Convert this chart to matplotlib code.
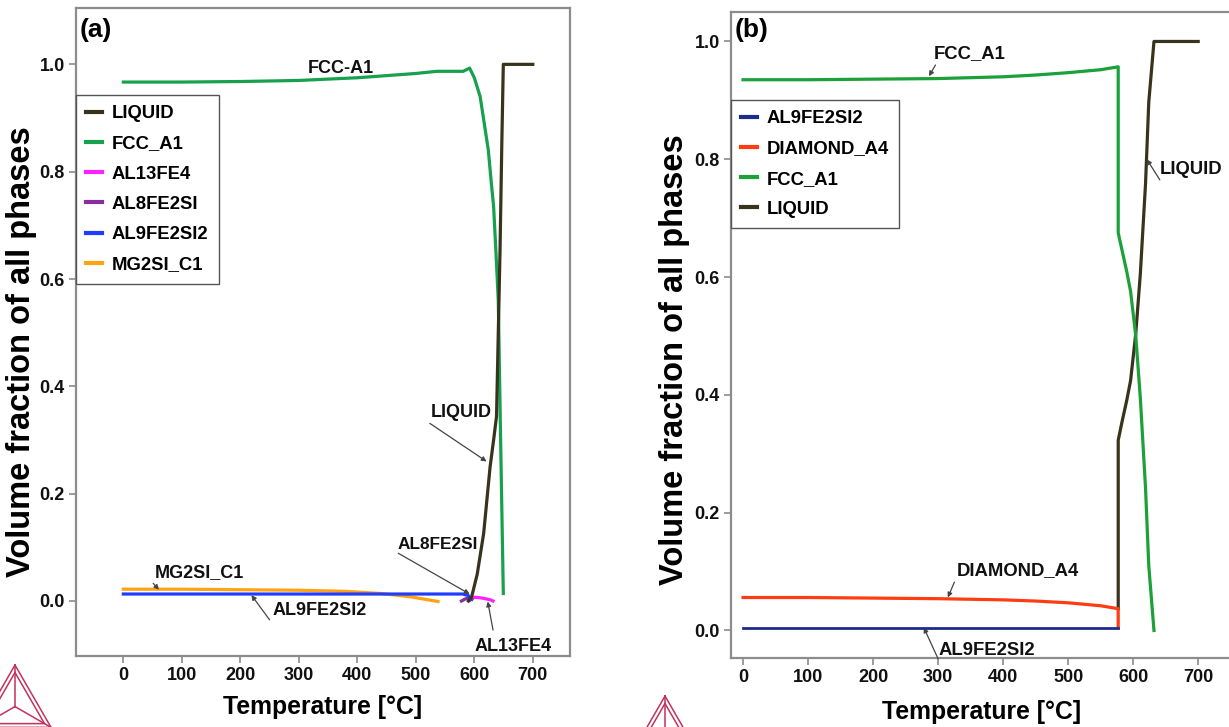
"""Fractions volumiques des phases vs température — panneaux (a) et (b)."""
import numpy as np
import matplotlib
matplotlib.use("Agg")
import matplotlib.pyplot as plt
from matplotlib.ticker import FormatStrFormatter

plt.rcParams["font.family"] = ["Liberation Sans", "DejaVu Sans"]
plt.rcParams["font.weight"] = "bold"

# ---------------------------------------------------------------------------
# Panneau (a)
# ---------------------------------------------------------------------------
a_liquid_T = [590, 595.5, 605, 616, 627, 633, 638, 641, 644, 647, 649.6, 700]
a_liquid_f = [0.0, 0.008, 0.05, 0.126, 0.25, 0.30, 0.344, 0.5, 0.654, 0.85, 1.0, 1.0]

a_fcc_T = [0, 100, 200, 300, 400, 450, 500, 536, 581, 592, 600, 610, 617, 624,
           629, 633, 637, 641, 645, 649.6]
a_fcc_f = [0.967, 0.967, 0.968, 0.970, 0.975, 0.979, 0.983, 0.987, 0.987, 0.993,
           0.975, 0.94, 0.89, 0.84, 0.78, 0.735, 0.65, 0.56, 0.30, 0.014]

a_al13fe4_T = [593, 600, 610, 620, 628, 632]
a_al13fe4_f = [0.004, 0.007, 0.006, 0.004, 0.002, 0.0]

a_al8fe2si_T = [578, 585, 592, 596]
a_al8fe2si_f = [0.0, 0.004, 0.006, 0.003]

a_al9fe2si2_T = [0, 580, 590, 593]
a_al9fe2si2_f = [0.013, 0.013, 0.010, 0.002]

a_mg2si_T = [0, 100, 200, 300, 380, 440, 490, 538]
a_mg2si_f = [0.022, 0.022, 0.021, 0.020, 0.018, 0.014, 0.008, -0.001]

# ---------------------------------------------------------------------------
# Panneau (b)
# ---------------------------------------------------------------------------
b_al9fe2si2_T = [0, 577]
b_al9fe2si2_f = [0.005, 0.005]

b_diamond_T = [0, 100, 200, 300, 400, 450, 500, 550, 577, 577]
b_diamond_f = [0.056, 0.056, 0.055, 0.054, 0.052, 0.050, 0.047, 0.042, 0.037, 0.005]

b_fcc_T = [0, 100, 200, 300, 400, 450, 500, 550, 577, 577, 583, 590, 596, 604,
           611, 619, 624, 632]
b_fcc_f = [0.935, 0.935, 0.936, 0.937, 0.940, 0.943, 0.947, 0.952, 0.957, 0.675,
           0.645, 0.61, 0.576, 0.50, 0.395, 0.242, 0.11, 0.0]

b_liquid_T = [577, 577, 583, 590, 596, 604, 611, 619, 624, 632, 700]
b_liquid_f = [0.037, 0.323, 0.355, 0.39, 0.424, 0.504, 0.605, 0.758, 0.897, 1.0, 1.0]

x_ticks = [0, 100, 200, 300, 400, 500, 600, 700]
y_ticks = [0.0, 0.2, 0.4, 0.6, 0.8, 1.0]

COUL = {
    "LIQUID": "#37331c",
    "FCC_A1": "#17a04e",
    "AL13FE4": "#ff22ff",
    "AL8FE2SI": "#8d2c9e",
    "AL9FE2SI2": "#1f3cff",
    "MG2SI_C1": "#ffa214",
    "AL9FE2SI2_b": "#1c2d8a",
    "DIAMOND_A4": "#ff3c12",
    "FCC_A1_b": "#1ca03a",
}

FLECHE = dict(arrowstyle="-|>", color="#444444", lw=0.9, mutation_scale=7,
              shrinkA=0, shrinkB=0)

W, H = 1229, 727
fig = plt.figure(figsize=(W / 100, H / 100), dpi=100)
fig.patch.set_facecolor("white")


def ax_pixels(gauche, haut, droite, bas):
    return fig.add_axes([gauche / W, (H - bas) / H, (droite - gauche) / W, (bas - haut) / H])


def habiller(ax, xlim, ylim, xlab_y, ylab_xy):
    ax.set_xlim(*xlim)
    ax.set_ylim(*ylim)
    ax.set_xticks(x_ticks)
    ax.set_yticks(y_ticks)
    ax.yaxis.set_major_formatter(FormatStrFormatter("%.1f"))
    for s in ax.spines.values():
        s.set_color("#8c8c8c")
        s.set_linewidth(1.6)
    ax.tick_params(direction="out", length=5, width=1.2, color="#8c8c8c",
                   labelsize=13, labelcolor="#111111", pad=3)
    ax.set_xlabel("Temperature [°C]", fontsize=17.8, fontweight="bold")
    ax.set_ylabel("Volume fraction of all phases", fontsize=23.5, fontweight="bold")
    ax.xaxis.label.set_va("center")
    ax.yaxis.label.set_va("center")
    ax.xaxis.set_label_coords(0.5, xlab_y)
    ax.yaxis.set_label_coords(*ylab_xy)


def legende(ax, top):
    leg = ax.legend(loc="upper left", bbox_to_anchor=(0.0, top), borderaxespad=0,
                    fontsize=13.3, handlelength=0.85, handletextpad=0.55,
                    labelspacing=0.72, borderpad=0.55, fancybox=False,
                    framealpha=1, edgecolor="#555555")
    leg.get_frame().set_linewidth(1.0)
    for h in leg.get_lines():
        h.set_linewidth(3)


def note(ax, texte, centre, queue, pointe, taille=13):
    ax.text(centre[0], centre[1], texte, ha="center", va="center",
            fontsize=taille, fontweight="bold", color="#111111")
    if pointe is not None:
        ax.annotate("", xy=pointe, xytext=queue, arrowprops=FLECHE,
                    annotation_clip=False)


def logo(x0, y0, taille):
    # triangle Thermo-Calc stylisé (pixels figure)
    h = taille * np.sqrt(3) / 2
    sommets = np.array([[x0, y0], [x0 - taille / 2, y0 + h], [x0 + taille / 2, y0 + h]])
    centre = sommets.mean(axis=0)
    for k in (1.0, 0.82):
        pts = centre + (sommets - centre) * k
        pts = np.vstack([pts, pts[:1]])
        fig.add_artist(plt.Line2D(pts[:, 0] / W, 1 - pts[:, 1] / H, color="#c2325e",
                                  lw=1.1, transform=fig.transFigure))
    for s in sommets:
        fig.add_artist(plt.Line2D([centre[0] / W, s[0] / W], [1 - centre[1] / H, 1 - s[1] / H],
                                  color="#c2325e", lw=1.1, transform=fig.transFigure))


# ----------------------------- (a) ------------------------------------------
ax1 = ax_pixels(76, 8, 570, 656)
lw = 2.3
ax1.plot(a_liquid_T, a_liquid_f, color=COUL["LIQUID"], lw=lw, label="LIQUID", zorder=4)
ax1.plot(a_fcc_T, a_fcc_f, color=COUL["FCC_A1"], lw=lw, label="FCC_A1", zorder=3)
ax1.plot(a_al13fe4_T, a_al13fe4_f, color=COUL["AL13FE4"], lw=lw, label="AL13FE4", zorder=3)
ax1.plot(a_al8fe2si_T, a_al8fe2si_f, color=COUL["AL8FE2SI"], lw=lw, label="AL8FE2SI", zorder=3)
ax1.plot(a_al9fe2si2_T, a_al9fe2si2_f, color=COUL["AL9FE2SI2"], lw=lw, label="AL9FE2SI2", zorder=3)
ax1.plot(a_mg2si_T, a_mg2si_f, color=COUL["MG2SI_C1"], lw=lw, label="MG2SI_C1", zorder=2)
habiller(ax1, (-80.9, 763.6), (-0.1025, 1.105), -0.079, (-0.11, 0.47))
legende(ax1, 0.866)

note(ax1, "FCC-A1", (372, 0.993), None, None)
note(ax1, "LIQUID", (578, 0.352), (524, 0.331), (621, 0.26))
note(ax1, "AL8FE2SI", (537, 0.106), (470, 0.089), (592, 0.013), 12.4)
note(ax1, "MG2SI_C1", (130, 0.053), (51, 0.033), (61, 0.021))
note(ax1, "AL9FE2SI2", (335, -0.017), (250, -0.035), (219, 0.011))
note(ax1, "AL13FE4", (667, -0.084), (632, -0.054), (623, -0.001))
ax1.text(0.008, 0.966, "(a)", transform=ax1.transAxes, fontsize=19,
         fontweight="bold", ha="left", va="center")

# ----------------------------- (b) ------------------------------------------
ax2 = ax_pixels(731, 12, 1232, 658)
ax2.plot(b_liquid_T, b_liquid_f, color=COUL["LIQUID"], lw=lw, zorder=3)
ax2.plot(b_fcc_T, b_fcc_f, color=COUL["FCC_A1_b"], lw=lw, zorder=3)
ax2.plot(b_diamond_T, b_diamond_f, color=COUL["DIAMOND_A4"], lw=lw, zorder=4)
ax2.plot(b_al9fe2si2_T, b_al9fe2si2_f, color=COUL["AL9FE2SI2_b"], lw=2.0, zorder=5)
# ordre de légende du logiciel
for nom, c in [("AL9FE2SI2", COUL["AL9FE2SI2_b"]), ("DIAMOND_A4", COUL["DIAMOND_A4"]),
               ("FCC_A1", COUL["FCC_A1_b"]), ("LIQUID", COUL["LIQUID"])]:
    ax2.plot([], [], color=c, lw=lw, label=nom)
habiller(ax2, (-18.5, 752), (-0.0467, 1.05), -0.084, (-0.112, 0.462))
legende(ax2, 0.864)

note(ax2, "FCC_A1", (348, 0.98), (296, 0.96), (286, 0.941), 13.3)
note(ax2, "LIQUID", (689, 0.782), (641, 0.765), (621, 0.80), 13.3)
note(ax2, "DIAMOND_A4", (422, 0.102), (325, 0.082), (315, 0.056), 13.3)
note(ax2, "AL9FE2SI2", (375, -0.034), (300, -0.048), (278, 0.005), 13.3)
ax2.text(0.008, 0.972, "(b)", transform=ax2.transAxes, fontsize=19,
         fontweight="bold", ha="left", va="center")

logo(15, 665, 72)
logo(665, 696, 72)

fig.savefig("out.png", dpi=100)
